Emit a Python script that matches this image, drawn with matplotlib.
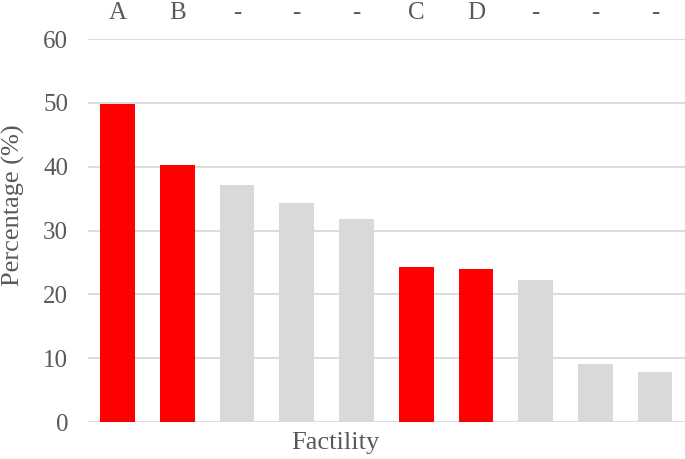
import matplotlib.pyplot as plt
import numpy as np

plt.rcParams['font.family'] = ['Liberation Serif', 'DejaVu Serif']

facility_labels = ['A', 'B', '-', '-', '-', 'C', 'D', '-', '-', '-']
percentages = [49.8, 40.2, 37.2, 34.3, 31.8, 24.3, 23.9, 22.2, 9.1, 7.8]
highlighted = [True, True, False, False, False, True, True, False, False, False]

red = '#FF0000'
grey = '#D9D9D9'
text_col = '#595959'

fig = plt.figure(figsize=(6.85, 4.59), dpi=100)
ax = fig.add_axes([0.128, 0.0806, 0.872, 0.8344])

x = np.arange(len(percentages))
colors = [red if h else grey for h in highlighted]
ax.bar(x, percentages, width=0.58, color=colors, zorder=3)

ax.set_xlim(-0.5, len(percentages) - 0.5)
ax.set_ylim(0, 60)
ax.set_yticks(range(0, 61, 10))
ax.grid(axis='y', color=grey, linewidth=1.3, zorder=0)
ax.set_axisbelow(True)
for s in ax.spines.values():
    s.set_visible(False)

ax.xaxis.tick_top()
ax.set_xticks(x)
ax.set_xticklabels(facility_labels)
ax.tick_params(axis='x', length=0, pad=11, labelsize=18, colors=text_col)
ax.tick_params(axis='y', length=0, pad=14, labelsize=18, colors=text_col)

# axis titles placed in pixel terms to match the original layout
fig.text(13 / 685, 1 - 205 / 459, 'Percentage (%)', fontsize=19, color=text_col,
         rotation=90, ha='center', va='center')
fig.text(335 / 685, 1 - 443 / 459, 'Factility', fontsize=19, color=text_col,
         ha='center', va='center')

fig.savefig('out.png', dpi=100)
